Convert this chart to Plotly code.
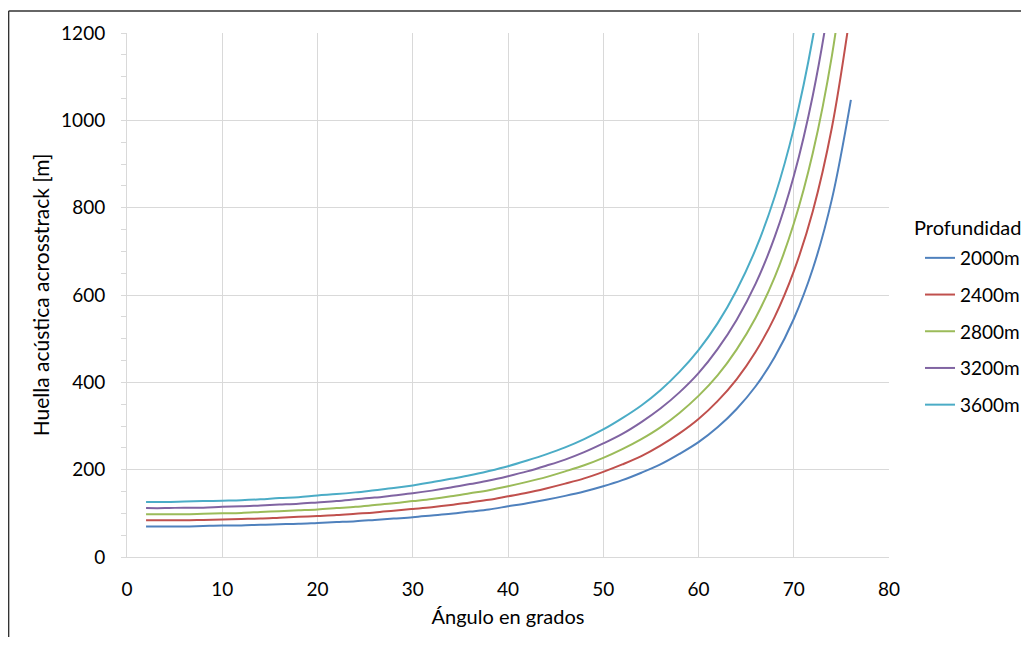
import plotly.graph_objects as go

angles = list(range(2, 77, 2))

d2000 = [70, 70, 70, 71, 72, 72, 74, 75, 76, 78, 80, 82, 85, 88, 91, 95, 99, 104, 109, 116,
         123, 131, 140, 150, 162, 176, 193, 212, 236, 263, 297, 339, 391, 458, 545, 660, 819, 1047]
d2400 = [84, 84, 84, 85, 86, 87, 88, 90, 92, 94, 96, 99, 102, 106, 110, 114, 119, 125, 131, 139,
         147, 157, 168, 180, 195, 212, 231, 255, 283, 316, 357, 407, 470, 550, 654, 792, 983, 1256]
d2800 = [98, 98, 98, 99, 100, 101, 103, 105, 107, 109, 112, 115, 119, 123, 128, 133, 139, 146, 153, 162,
         172, 183, 196, 210, 227, 247, 270, 297, 330, 369, 416, 475, 548, 641, 763, 925, 1147, 1465]
d3200 = [112, 112, 113, 113, 115, 116, 118, 120, 122, 125, 128, 132, 136, 141, 146, 152, 159, 167, 175, 185,
         196, 209, 223, 240, 260, 282, 309, 340, 377, 421, 476, 543, 626, 733, 872, 1057, 1311, 1675]
d3600 = [126, 126, 127, 128, 129, 130, 132, 135, 137, 141, 144, 148, 153, 158, 164, 171, 179, 187, 197, 208,
         221, 235, 251, 270, 292, 318, 347, 382, 424, 474, 535, 611, 705, 825, 981, 1189, 1475, 1884]

series_names = ["2000m", "2400m", "2800m", "3200m", "3600m"]
series_values = [d2000, d2400, d2800, d3200, d3600]
colors = ["#4F81BD", "#C0504D", "#9BBB59", "#8064A2", "#4BACC6"]

FONT = "Lato"
GRID = "#D9D9D9"

fig = go.Figure()
for name, vals, col in zip(series_names, series_values, colors):
    fig.add_trace(go.Scatter(
        x=angles, y=vals, name=name, mode="lines",
        line=dict(color=col, width=2, shape="spline", smoothing=1.0),
        legendgroup=name,
    ))

# page has an 8px body margin, so the figure is 16px smaller than the window
OFF = 8
W, H = 1013, 629
L, T = 127 - OFF, 33 - OFF
R = W - (889 - OFF)
B = H - (557 - OFF)
pw, ph = W - L - R, H - T - B

def px_x(px):
    return (px - OFF - L) / pw

def px_y(py):
    return (H - B - (py - OFF)) / ph

fig.update_layout(
    width=W, height=H,
    margin=dict(l=L, r=R, t=T, b=B, autoexpand=False),
    paper_bgcolor="white", plot_bgcolor="white",
    font=dict(family=FONT, size=19, color="#000000"),
    showlegend=True,
    legend=dict(
        x=px_x(920), xanchor="left",
        y=px_y(239), yanchor="top",
        font=dict(size=19, family=FONT),
        tracegroupgap=9,
        traceorder="grouped",
        itemwidth=30,
        bgcolor="rgba(0,0,0,0)",
    ),
    xaxis=dict(
        range=[0, 80], dtick=10, tick0=0,
        showgrid=True, gridcolor=GRID, gridwidth=1,
        showline=True, linecolor=GRID, linewidth=1,
        ticks="", zeroline=False,
        ticklabelstandoff=15,
        title=dict(text="Ángulo en grados", font=dict(size=20, family=FONT), standoff=11),
        tickfont=dict(size=19, family=FONT),
    ),
    yaxis=dict(
        range=[0, 1200], dtick=200, tick0=0,
        showgrid=True, gridcolor=GRID, gridwidth=1,
        showline=True, linecolor=GRID, linewidth=1,
        ticks="outside", ticklen=5, tickcolor=GRID, tickwidth=1,
        minor=dict(dtick=50, ticks="outside", ticklen=5, tickcolor=GRID, tickwidth=1, showgrid=False),
        zeroline=False,
        ticklabelstandoff=12,
        title=dict(text="Huella acústica acrosstrack [m]", font=dict(size=21, family=FONT), standoff=5),
        tickfont=dict(size=19, family=FONT),
    ),
)

# legend title
fig.add_annotation(text="Profundidad", xref="paper", yref="paper",
                   x=px_x(912), y=px_y(227), xanchor="left", yanchor="middle",
                   showarrow=False, font=dict(size=20, family=FONT, color="#000000"))

# outer frame of the original screenshot (top and left edges)
fig.add_shape(type="line", xref="paper", yref="paper",
              x0=px_x(8.6), x1=px_x(1040), y0=px_y(11), y1=px_y(11),
              line=dict(color="#333333", width=1.5))
fig.add_shape(type="line", xref="paper", yref="paper",
              x0=px_x(8.6), x1=px_x(8.6), y0=px_y(11), y1=px_y(660),
              line=dict(color="#333333", width=1.5))

fig.write_html("out.html")
